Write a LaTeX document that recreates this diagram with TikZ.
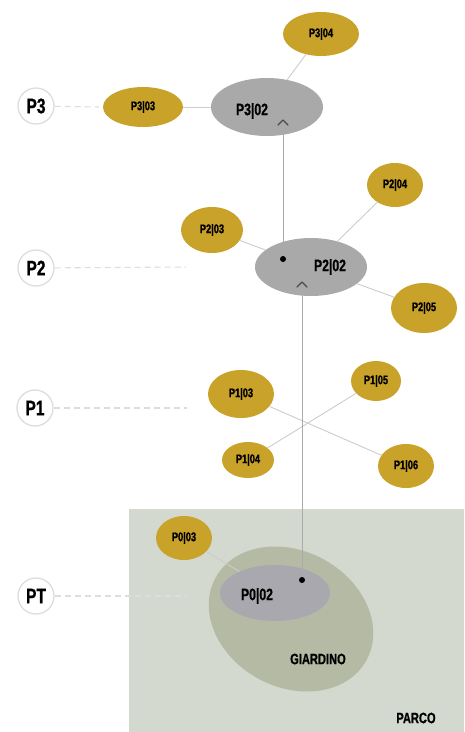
\documentclass[tikz,border=0pt]{standalone}
\usepackage{fontspec}
\newfontfamily\cond[FakeStretch=0.74,FakeBold=0.8]{Liberation Sans}
\usetikzlibrary{shapes.geometric}
\definecolor{goldc}{HTML}{C9A22A}
\definecolor{grayc}{HTML}{A9A9A9}
\definecolor{pzero}{HTML}{A8A8AE}
\definecolor{giard}{HTML}{B4BAA4}
\definecolor{parco}{HTML}{D4D9CF}
\definecolor{ringc}{HTML}{DDDDDD}
\definecolor{linkc}{HTML}{CCCCCC}
\definecolor{riserc}{HTML}{AAAAAA}
\definecolor{chevc}{HTML}{4A4A4A}
\tikzset{
  lvl/.style={circle,draw=ringc,line width=1.3pt,fill=white,minimum size=36pt,inner sep=0pt,
    font=\cond\bfseries\fontsize{21}{21}\selectfont},
  gold/.style={ellipse,fill=goldc,inner sep=0pt,
    font=\cond\bfseries\fontsize{12.5}{12.5}\selectfont},
  grayel/.style={ellipse,fill=grayc,inner sep=0pt},
  biglab/.style={inner sep=0pt,font=\cond\bfseries\fontsize{16.5}{16.5}\selectfont},
  arealab/.style={inner sep=0pt,font=\cond\bfseries\fontsize{15}{15}\selectfont},
  link/.style={draw=linkc,line width=0.9pt},
  lvldash/.style={draw=ringc,line width=1.1pt,dash pattern=on 6pt off 4pt},
  riser/.style={draw=riserc,line width=0.9pt},
  chev/.style={draw=chevc,line width=1.4pt,line cap=round,line join=round},
  dot/.style={circle,fill=black,inner sep=0pt,minimum size=6pt}
}
\begin{document}
\begin{tikzpicture}[x=1pt,y=-1pt]
\useasboundingbox (0,0) rectangle (464,732);
% areas
\fill[parco] (129,509) rectangle (464,732);
\node[ellipse,fill=giard,minimum width=172pt,minimum height=136pt,rotate=-28.5,inner sep=0pt] (giardino) at (291,619) {};
\node[arealab] (giardinolab) at (318,659) {GIARDINO};
\node[arealab] (parcolab) at (416,718) {PARCO};

% level circles
\node[lvl] (P3) at (36,106) {P3};
\node[lvl] (P2) at (36,268) {P2};
\node[lvl] (P1) at (35,408) {P1};
\node[lvl] (PT) at (36,596) {PT};
\coordinate (e3) at (99,107);
\coordinate (e2) at (186,267);
\coordinate (e1) at (187,408);
\coordinate (eT) at (187,596);
\draw[lvldash] (P3) -- (e3);
\draw[lvldash] (P2) -- (e2);
\draw[lvldash] (P1) -- (e1);
\draw[lvldash] (PT) -- (eT);

% level 3
\node[grayel,minimum width=112pt,minimum height=58pt] (p302) at (267,107) {};
\node[biglab] (p302lab) at (252,111) {P3|02};
\node[gold,minimum width=80pt,minimum height=40pt] (p303) at (143,107) {P3|03};
\node[gold,minimum width=76pt,minimum height=44pt] (p304) at (321,34) {P3|04};
\draw[link] (p303) -- (p302);
\draw[link] (p304) -- (p302);

% level 2
\node[grayel,minimum width=112pt,minimum height=58pt] (p202) at (311,267) {};
\node[biglab] (p202lab) at (330,267) {P2|02};
\node[gold,minimum width=62pt,minimum height=46pt] (p203) at (212,230) {P2|03};
\node[gold,minimum width=56pt,minimum height=44pt] (p204) at (395,185) {P2|04};
\node[gold,minimum width=66pt,minimum height=50pt] (p205) at (424,308) {P2|05};
\draw[link] (p203) -- (p202);
\draw[link] (p204) -- (p202);
\draw[link] (p205) -- (p202);

% level 1
\node[gold,minimum width=66pt,minimum height=48pt] (p103) at (241,394) {P1|03};
\node[gold,minimum width=52pt,minimum height=36pt] (p104) at (248,460) {P1|04};
\node[gold,minimum width=50pt,minimum height=40pt] (p105) at (376,381) {P1|05};
\node[gold,minimum width=56pt,minimum height=44pt] (p106) at (406,466) {P1|06};
\draw[link] (p103) -- (p106);
\draw[link] (p104) -- (p105);

% level 0
\node[ellipse,fill=pzero,minimum width=110pt,minimum height=56pt,inner sep=0pt] (p002) at (275,593) {};
\node[biglab] (p002lab) at (257,596) {P0|02};
\node[gold,minimum width=56pt,minimum height=44pt] (p003) at (184,538) {P0|03};
\draw[link] (p003) -- (p002);

% risers
\node[dot] (d2) at (283,259) {};
\node[dot] (d0) at (302,580) {};
\coordinate (c3) at (283,120);
\coordinate (c2) at (302,282);
\draw[riser] (d2) -- ([yshift=-4pt]c3);
\draw[riser] (d0) -- ([yshift=-4pt]c2);
\draw[chev] ([xshift=-5pt,yshift=-5pt]c3) -- (c3) -- ([xshift=5pt,yshift=-5pt]c3);
\draw[chev] ([xshift=-5pt,yshift=-5pt]c2) -- (c2) -- ([xshift=5pt,yshift=-5pt]c2);
\end{tikzpicture}
\end{document}
